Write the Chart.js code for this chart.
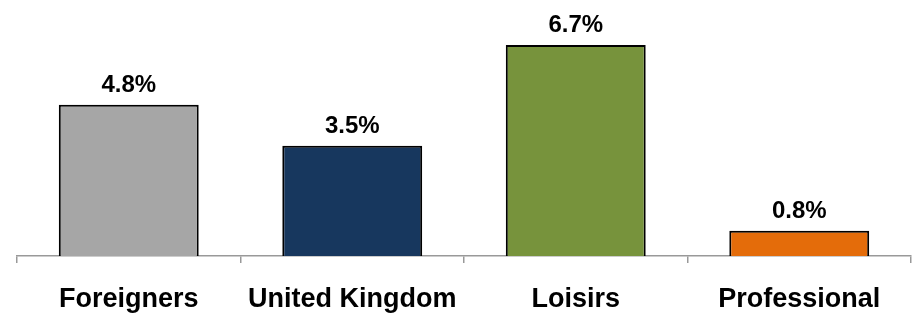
<!DOCTYPE html>
<html>
<head>
<meta charset="utf-8">
<script src="https://cdn.jsdelivr.net/npm/chart.js@4"></script>
<style>
  html, body { margin: 0; padding: 0; background: #ffffff; }
  #wrap { width: 921px; height: 316px; position: relative; }
</style>
</head>
<body>
<div id="wrap"><canvas id="c" width="921" height="316"></canvas></div>
<script>
const categories = ["Foreigners", "United Kingdom", "Loisirs", "Professional"];
const values = [4.8, 3.5, 6.7, 0.8];
const valueLabels = ["4.8%", "3.5%", "6.7%", "0.8%"];
const barColors = ["#a6a6a6", "#17375e", "#77933c", "#e46c0a"];

const labelPlugin = {
  id: "valueLabels",
  afterDatasetsDraw(chart) {
    const ctx = chart.ctx;
    const meta = chart.getDatasetMeta(0);
    ctx.save();
    ctx.font = "bold 24px 'Liberation Sans', Arial, sans-serif";
    ctx.fillStyle = "#000000";
    ctx.textAlign = "center";
    ctx.textBaseline = "alphabetic";
    meta.data.forEach((bar, i) => {
      ctx.fillText(valueLabels[i], bar.x, bar.y - 13);
    });
    ctx.restore();
  }
};

new Chart(document.getElementById("c"), {
  type: "bar",
  data: {
    labels: categories,
    datasets: [{
      data: values,
      backgroundColor: barColors,
      borderColor: "#000000",
      borderWidth: 2,
      categoryPercentage: 1.0,
      barPercentage: 0.626
    }]
  },
  options: {
    responsive: false,
    animation: false,
    layout: { padding: { left: 17, right: 10, top: 4, bottom: 0 } },
    plugins: { legend: { display: false }, tooltip: { enabled: false } },
    scales: {
      y: { display: false, min: 0, max: 8 },
      x: {
        offset: true,
        afterFit(scale) { scale.height = 60; },
        grid: { display: true, drawOnChartArea: false, drawTicks: true, tickLength: 7, color: "#999999", lineWidth: 1.5, offset: true },
        border: { display: true, color: "#999999", width: 1.5 },
        ticks: {
          color: "#000000",
          padding: 20,
          font: { family: "'Liberation Sans', Arial, sans-serif", size: 27, weight: "bold" },
          maxRotation: 0,
          autoSkip: false
        }
      }
    }
  },
  plugins: [labelPlugin]
});
</script>
</body>
</html>
